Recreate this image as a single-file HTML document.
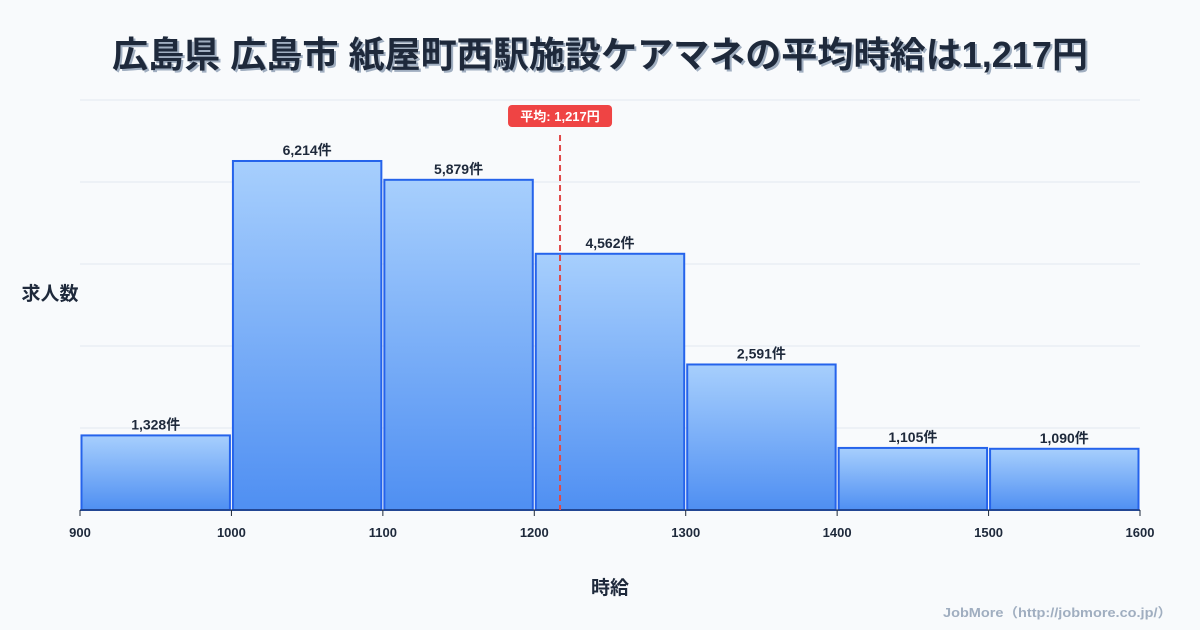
<!DOCTYPE html>
<html><head><meta charset="utf-8"><style>
body{margin:0;background:#f8fafc;}
svg{display:block;font-family:"Liberation Sans","Noto Sans CJK JP",sans-serif;}
</style></head><body>
<svg id="c" width="1200" height="630" viewBox="0 0 1200 630">
<defs><linearGradient id="g" x1="0" y1="0" x2="0" y2="1"><stop offset="0" stop-color="#a7cffd"/><stop offset="1" stop-color="#4f8ff2"/></linearGradient></defs>
<rect width="1200" height="630" fill="#f8fafc"/>
<text x="602" y="69" text-anchor="middle" font-size="36" font-weight="bold" fill="#a0aec0" textLength="976" lengthAdjust="spacingAndGlyphs">広島県 広島市 紙屋町西駅施設ケアマネの平均時給は1,217円</text>
<text x="600" y="67" text-anchor="middle" font-size="36" font-weight="bold" fill="#1e293b" textLength="976" lengthAdjust="spacingAndGlyphs">広島県 広島市 紙屋町西駅施設ケアマネの平均時給は1,217円</text>
<g id="grid"></g><g id="bars"></g><g id="xt"></g>
<text x="50" y="300" text-anchor="middle" font-size="19" font-weight="bold" fill="#1e293b">求人数</text>
<text x="610" y="594" text-anchor="middle" font-size="19" font-weight="bold" fill="#1e293b">時給</text>
<text x="1172" y="617" text-anchor="end" font-size="13" font-weight="bold" fill="#a0aec0" textLength="229" lengthAdjust="spacingAndGlyphs">JobMore（http://jobmore.co.jp/）</text>
</svg>
<script>
const binStarts=[900,1000,1100,1200,1300,1400,1500];
const counts=[1328,6214,5879,4562,2591,1105,1090];
const labels=["1,328件","6,214件","5,879件","4,562件","2,591件","1,105件","1,090件"];
const xTicks=[900,1000,1100,1200,1300,1400,1500,1600];
const meanVal=1217;
const meanLabel="平均: 1,217円";
const yMax=7300, yGrid=[0,1460,2920,4380,5840,7300];
const NS="http://www.w3.org/2000/svg";
const X=v=>80+(v-900)*(1060/700);
const Y=v=>510-v*(410/yMax);
function mk(p,t,a){const e=document.createElementNS(NS,t);for(const k in a)e.setAttribute(k,a[k]);p.appendChild(e);return e;}
const svg=document.getElementById('c');
const grid=document.getElementById('grid'),bars=document.getElementById('bars'),xt=document.getElementById('xt');
yGrid.forEach(v=>{if(v===0)return;const l=mk(grid,'line',{x1:80,x2:1140,y1:Y(v),y2:Y(v),stroke:'#e2e8f0','stroke-width':1});

});
binStarts.forEach((b,i)=>{
 const x0=X(b)+1.5,x1=X(b+100)-1.5;
 const r=mk(bars,'rect',{x:x0,y:Y(counts[i]),width:x1-x0,height:510-Y(counts[i]),fill:'url(#g)',stroke:'#2563eb','stroke-width':2});
 
 
 const t=mk(bars,'text',{x:(x0+x1)/2,y:Y(counts[i])-6,'text-anchor':'middle','font-size':14,'font-weight':'bold',fill:'#1e293b'});
 t.textContent=labels[i];
 
 
});
const ax=mk(xt,'line',{x1:80,x2:1140,y1:510,y2:510,stroke:'#1e293b','stroke-width':1});


xTicks.forEach(v=>{const tk=mk(xt,'line',{x1:X(v),x2:X(v),y1:510,y2:516,stroke:'#1e293b'});


const t=mk(xt,'text',{x:X(v),y:537,'text-anchor':'middle','font-size':13,'font-weight':'bold',fill:'#1e293b'});t.textContent=v;

});
const mx=X(meanVal);
const ml=mk(svg,'line',{x1:mx,x2:mx,y1:135,y2:510,stroke:'#e04848','stroke-width':2,'stroke-dasharray':'6,4'});


const mb=mk(svg,'rect',{x:mx-52,y:105,width:104,height:22,rx:4,fill:'#ef4444'});


const mt=mk(svg,'text',{x:mx,y:121,'text-anchor':'middle','font-size':13,'font-weight':'bold',fill:'#fff'});mt.textContent=meanLabel;


</script>
</body></html>
